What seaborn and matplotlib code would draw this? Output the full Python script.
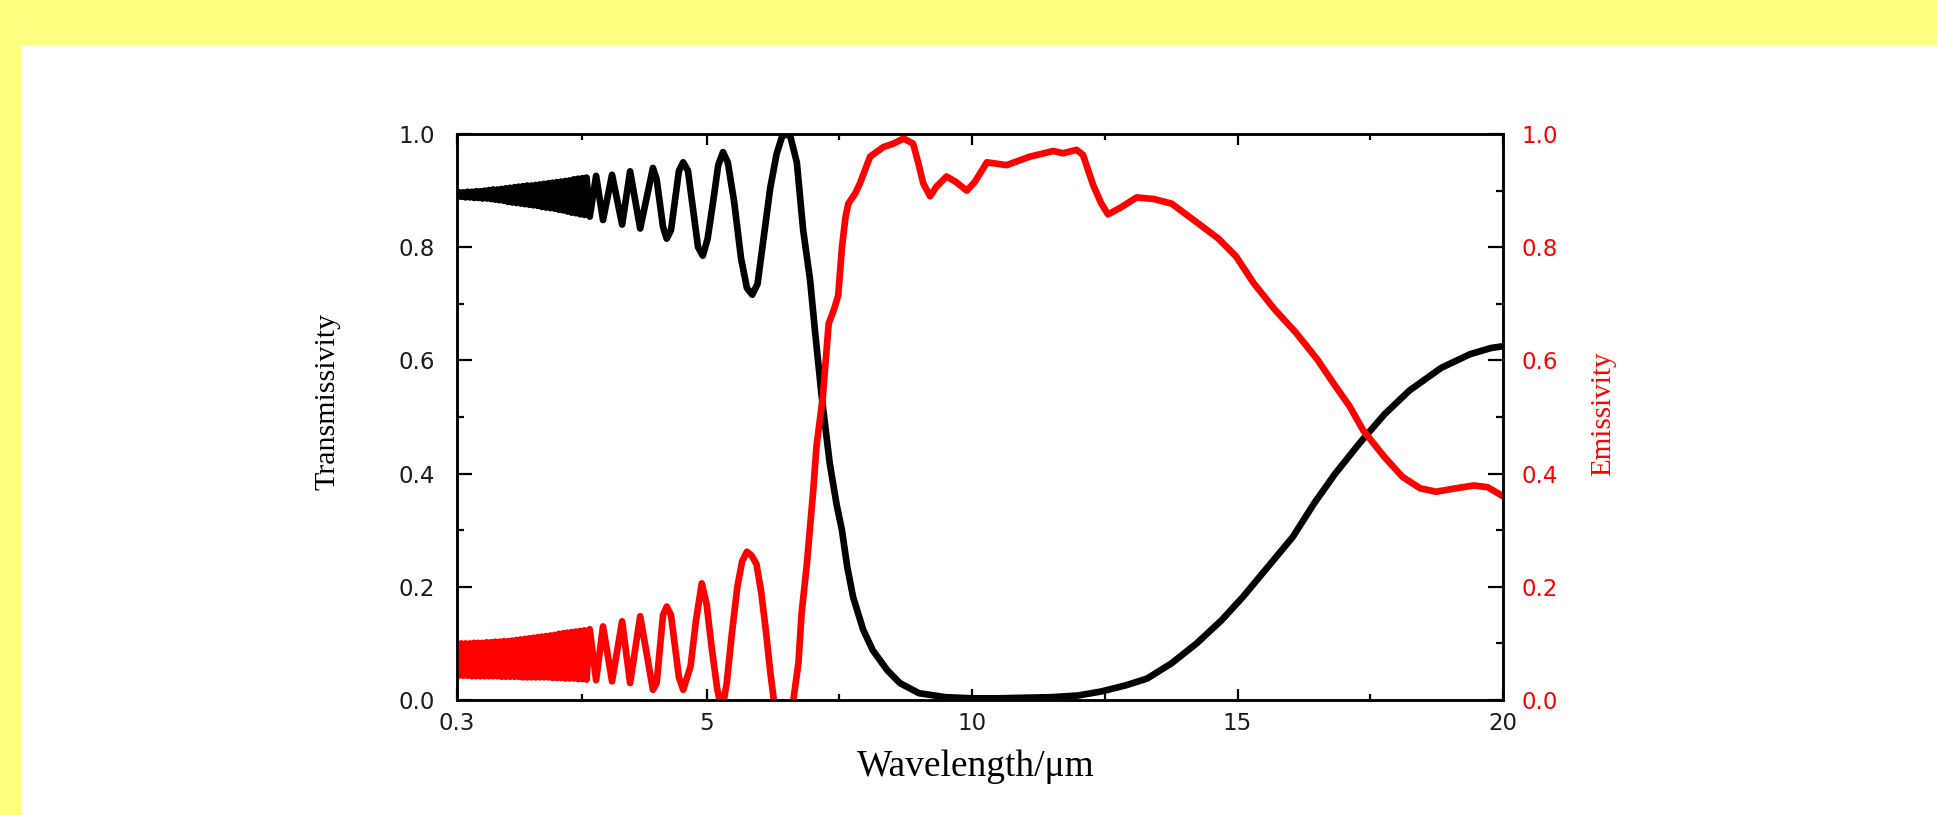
import matplotlib
matplotlib.use("Agg")
import matplotlib.pyplot as plt
import seaborn as sns
import pandas as pd
from matplotlib.ticker import FixedLocator, MultipleLocator
from matplotlib.patches import Rectangle

# ---------------- data ----------------
wl_trans = [0.30, 0.34, 0.38, 0.42, 0.46, 0.50, 0.54, 0.58, 0.62, 0.66, 0.70, 0.74,
            0.78, 0.82, 0.86, 0.90, 0.94, 0.98, 1.02, 1.06, 1.10, 1.14, 1.18, 1.22,
            1.26, 1.30, 1.34, 1.38, 1.42, 1.46, 1.50, 1.54, 1.58, 1.62, 1.66, 1.70,
            1.74, 1.78, 1.82, 1.86, 1.90, 1.94, 1.98, 2.02, 2.06, 2.10, 2.14, 2.18,
            2.22, 2.26, 2.30, 2.34, 2.38, 2.42, 2.46, 2.50, 2.54, 2.58, 2.62, 2.66,
            2.70, 2.74, 2.80, 2.92, 3.05, 3.22, 3.41, 3.56, 3.75, 3.99,
            4.06, 4.18, 4.25, 4.33, 4.48, 4.56, 4.65, 4.84, 4.93,
            5.02, 5.12, 5.22, 5.31, 5.40, 5.52, 5.65, 5.76, 5.86, 5.96, 6.08, 6.20,
            6.32, 6.42, 6.50, 6.58, 6.70, 6.82, 6.95, 7.04, 7.17, 7.32, 7.45, 7.55,
            7.65, 7.76, 7.95, 8.13, 8.40, 8.64, 9.00,
            9.50, 10.0, 10.5, 11.0, 11.5, 12.0, 12.43, 12.9, 13.30, 13.76, 14.23, 14.70,
            15.10, 15.57, 16.04, 16.44, 16.84, 17.31, 17.77, 18.24, 18.84, 19.38, 19.78, 20.0]
transmissivity = [0.889, 0.897, 0.889, 0.897, 0.888, 0.898, 0.888, 0.898, 0.887, 0.899, 0.887, 0.899,
                  0.886, 0.900, 0.886, 0.901, 0.885, 0.902, 0.884, 0.902, 0.883, 0.903, 0.882, 0.904,
                  0.880, 0.905, 0.879, 0.906, 0.878, 0.907, 0.877, 0.908, 0.876, 0.909, 0.875, 0.909,
                  0.874, 0.910, 0.873, 0.911, 0.871, 0.912, 0.870, 0.913, 0.869, 0.914, 0.868, 0.915,
                  0.866, 0.916, 0.865, 0.917, 0.863, 0.918, 0.861, 0.920, 0.860, 0.921, 0.858, 0.922,
                  0.857, 0.923, 0.854, 0.926, 0.848, 0.928, 0.840, 0.934, 0.833, 0.940,
                  0.920, 0.836, 0.815, 0.830, 0.935, 0.950, 0.935, 0.800, 0.785,
                  0.815, 0.878, 0.945, 0.968, 0.950, 0.880, 0.780, 0.728, 0.716, 0.735, 0.820, 0.905,
                  0.965, 0.995, 1.000, 0.995, 0.950, 0.830, 0.742, 0.654, 0.535, 0.418, 0.345, 0.300,
                  0.235, 0.182, 0.124, 0.088, 0.053, 0.030, 0.012,
                  0.005, 0.003, 0.003, 0.004, 0.005, 0.008, 0.015, 0.026, 0.038, 0.065, 0.100, 0.141,
                  0.182, 0.235, 0.288, 0.347, 0.400, 0.455, 0.505, 0.547, 0.587, 0.611, 0.622, 0.625]

wl_emis = [0.30, 0.34, 0.38, 0.42, 0.46, 0.50, 0.54, 0.58, 0.62, 0.66, 0.70, 0.74,
           0.78, 0.82, 0.86, 0.90, 0.94, 0.98, 1.02, 1.06, 1.10, 1.14, 1.18, 1.22,
           1.26, 1.30, 1.34, 1.38, 1.42, 1.46, 1.50, 1.54, 1.58, 1.62, 1.66, 1.70,
           1.74, 1.78, 1.82, 1.86, 1.90, 1.94, 1.98, 2.02, 2.06, 2.10, 2.14, 2.18,
           2.22, 2.26, 2.30, 2.34, 2.38, 2.42, 2.46, 2.50, 2.54, 2.58, 2.62, 2.66,
           2.70, 2.74, 2.80, 2.92, 3.05, 3.22, 3.41, 3.56, 3.75, 3.99,
           4.06, 4.18, 4.25, 4.33, 4.48, 4.56, 4.70, 4.80, 4.91, 5.00, 5.10, 5.20,
           5.29, 5.38, 5.48, 5.58, 5.67, 5.76, 5.85, 5.94, 6.03, 6.12, 6.20, 6.28,
           6.45, 6.62, 6.73, 6.79, 6.89, 7.01, 7.07, 7.19, 7.25, 7.30, 7.40, 7.48,
           7.55, 7.62, 7.67, 7.80, 7.89, 8.08, 8.33, 8.52, 8.71, 8.89, 8.99, 9.08,
           9.21, 9.33, 9.52, 9.70, 9.90, 10.05, 10.28, 10.65, 11.09, 11.53, 11.71, 11.97,
           12.09, 12.28, 12.43, 12.56, 12.80, 13.10, 13.43, 13.76, 14.16, 14.63, 14.97, 15.30,
           15.70, 16.10, 16.50, 16.84, 17.11, 17.37, 17.77, 18.11, 18.44, 18.74, 19.11, 19.45,
           19.71, 20.0]
emissivity = [0.100, 0.043, 0.100, 0.043, 0.100, 0.043, 0.100, 0.042, 0.101, 0.042, 0.101, 0.042,
              0.101, 0.042, 0.102, 0.042, 0.102, 0.042, 0.103, 0.042, 0.103, 0.041, 0.104, 0.041,
              0.104, 0.041, 0.105, 0.041, 0.106, 0.041, 0.107, 0.040, 0.108, 0.040, 0.109, 0.040,
              0.110, 0.040, 0.111, 0.040, 0.112, 0.040, 0.113, 0.040, 0.114, 0.039, 0.115, 0.039,
              0.117, 0.039, 0.118, 0.038, 0.119, 0.038, 0.120, 0.038, 0.121, 0.037, 0.122, 0.037,
              0.123, 0.036, 0.125, 0.035, 0.130, 0.033, 0.139, 0.030, 0.148, 0.018,
              0.030, 0.150, 0.165, 0.150, 0.040, 0.018, 0.060, 0.140, 0.206, 0.170, 0.090, 0.020,
              -0.020, 0.030, 0.120, 0.200, 0.245, 0.262, 0.255, 0.240, 0.190, 0.120, 0.050, -0.010,
              -0.040, -0.010, 0.065, 0.153, 0.241, 0.371, 0.448, 0.536, 0.607, 0.665, 0.690, 0.715,
              0.800, 0.855, 0.877, 0.895, 0.913, 0.960, 0.977, 0.983, 0.992, 0.983, 0.948, 0.913,
              0.890, 0.907, 0.925, 0.915, 0.900, 0.915, 0.950, 0.945, 0.960, 0.970, 0.966, 0.972,
              0.963, 0.910, 0.878, 0.858, 0.870, 0.888, 0.885, 0.877, 0.849, 0.816, 0.784, 0.737,
              0.690, 0.649, 0.602, 0.555, 0.519, 0.476, 0.429, 0.394, 0.374, 0.368, 0.374, 0.379,
              0.376, 0.360]

x_ticks = [0.3, 5, 10, 15, 20]
x_ticklabels = ["0.3", "5", "10", "15", "20"]
x_minor_ticks = [2.65, 7.5, 12.5, 17.5]
y_ticks = [0.0, 0.2, 0.4, 0.6, 0.8, 1.0]
y_ticklabels = ["0.0", "0.2", "0.4", "0.6", "0.8", "1.0"]

x_label = "Wavelength/\u03bcm"
left_label = "Transmissivity"
right_label = "Emissivity"

# ---------------- figure ----------------
sns.set_style("white")
plt.rcParams["font.family"] = ["DejaVu Sans"]

W, H = 1937, 815
fig = plt.figure(figsize=(W / 100, H / 100), dpi=100, facecolor="#FFFF80")
bg = fig.add_axes([21 / W, 0, 1 - 21 / W, (H - 45) / H], zorder=-10)
bg.add_patch(Rectangle((0, 0), 1, 1, transform=bg.transAxes, facecolor="white",
                       edgecolor="none"))
bg.set_axis_off()

ax = fig.add_axes([457 / W, (H - 700) / H, 1046 / W, 566 / H])
ax.set_facecolor("white")

df_t = pd.DataFrame({"wl": wl_trans, "T": transmissivity})
df_e = pd.DataFrame({"wl": wl_emis, "E": emissivity})

sns.lineplot(data=df_t, x="wl", y="T", ax=ax, color="black", linewidth=4.8,
             estimator=None, sort=False)
ax2 = ax.twinx()
sns.lineplot(data=df_e, x="wl", y="E", ax=ax2, color="#FF0000", linewidth=4.8,
             estimator=None, sort=False)

for a in (ax, ax2):
    a.set_xlim(0.3, 20)
    a.set_ylim(0, 1)
    a.set_xlabel("")
    a.set_ylabel("")
    for s in a.spines.values():
        s.set_visible(True)
        s.set_color("black")
        s.set_linewidth(1.8)

ax.xaxis.set_major_locator(FixedLocator(x_ticks))
ax.set_xticklabels(x_ticklabels)
ax.xaxis.set_minor_locator(FixedLocator(x_minor_ticks))
ax.yaxis.set_major_locator(FixedLocator(y_ticks))
ax.set_yticklabels(y_ticklabels)
ax.yaxis.set_minor_locator(MultipleLocator(0.1))

ax.tick_params(axis="x", which="both", direction="in", bottom=True, top=True,
               color="black", width=1.6)
ax.tick_params(axis="x", which="major", length=8, pad=9, labelsize=16.5,
               labelcolor="#1a1a1a")
ax.tick_params(axis="x", which="minor", length=4.5)
ax.tick_params(axis="y", which="both", direction="in", left=True, right=False,
               color="black", width=1.6)
ax.tick_params(axis="y", which="major", length=11, pad=16, labelsize=16.5,
               labelcolor="#1a1a1a")
ax.tick_params(axis="y", which="minor", length=5)

ax2.yaxis.set_major_locator(FixedLocator(y_ticks))
ax2.set_yticklabels(y_ticklabels)
ax2.yaxis.set_minor_locator(MultipleLocator(0.1))
ax2.tick_params(axis="y", which="both", direction="in", right=True, left=False,
                color="black", width=1.6)
ax2.tick_params(axis="y", which="major", length=11, pad=13, labelsize=16.5,
                labelcolor="#FF0000")
ax2.tick_params(axis="y", which="minor", length=5)

serif = ["Liberation Serif", "DejaVu Serif"]
ax.text(-0.124, 0.528, left_label, transform=ax.transAxes, rotation=90,
        ha="center", va="center", fontsize=21.5, family=serif, color="black")
ax.text(1.0956, 0.505, right_label, transform=ax.transAxes, rotation=90,
        ha="center", va="center", fontsize=21, family=serif, color="#FF0000")
ax.text(0.496, -0.118, x_label, transform=ax.transAxes,
        ha="center", va="center", fontsize=27, family=serif, color="black")

fig.savefig("out.png", dpi=100, facecolor=fig.get_facecolor())
